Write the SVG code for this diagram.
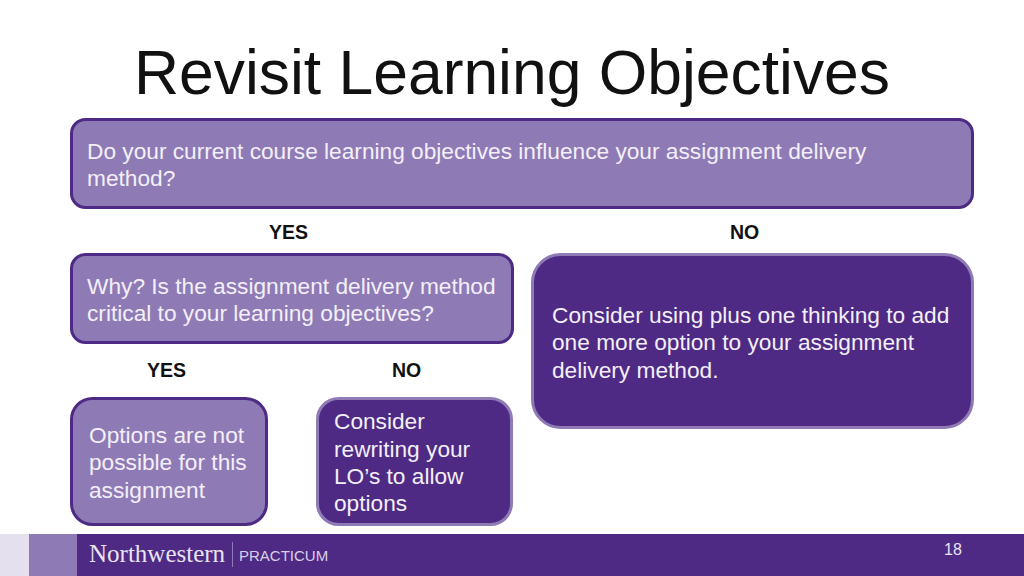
<svg xmlns="http://www.w3.org/2000/svg" width="1024" height="576" viewBox="0 0 1024 576">
<style>
text{font-family:"Liberation Sans",Arial,sans-serif}
.t{font-size:22.700px;fill:#f3eff8}
.l{font-size:19.500px;font-weight:700;fill:#111}
.light{fill:#8e7bb5;stroke:#4e2a84;stroke-width:3}
.dark{fill:#4e2a84;stroke:#8e7bb5;stroke-width:3}
</style>
<rect width="1024" height="576" fill="#fff"/>
<g id="footer">
<rect x="0" y="534" width="29" height="42" fill="#e4e0ee"/>
<rect x="29" y="534" width="48" height="42" fill="#8e7bb5"/>
<rect x="77" y="534" width="947" height="42" fill="#4e2a84"/>
<text x="89" y="562" font-size="25" style="font-family:'Liberation Serif',serif" fill="#e8e3f0">Northwestern</text>
<rect x="232" y="542" width="1" height="25" fill="#8e7bb5"/>
<text x="239" y="561" font-size="15" fill="#d8d0e6">PRACTICUM</text>
<text x="944" y="555" font-size="16" fill="#e8e3f0">18</text>
</g>
<text id="title" x="134" y="94" font-size="62.400" fill="#111">Revisit Learning Objectives</text>
<g id="node-question">
<rect class="light" x="71.500" y="119.500" width="901" height="88" rx="14"/>
<text class="t" x="87" y="159">Do your current course learning objectives influence your assignment delivery</text>
<text class="t" x="87" y="186">method?</text>
</g>
<text id="label-yes-1" class="l" x="269" y="239">YES</text>
<text id="label-no-1" class="l" x="730" y="239">NO</text>
<g id="node-why">
<rect class="light" x="71.500" y="254.500" width="441" height="88" rx="14"/>
<text class="t" x="87" y="294">Why? Is the assignment delivery method</text>
<text class="t" x="87" y="321">critical to your learning objectives?</text>
</g>
<g id="node-plus-one">
<rect class="dark" x="532.500" y="254.500" width="440" height="173" rx="28"/>
<text class="t" x="552" y="323">Consider using plus one thinking to add</text>
<text class="t" x="552" y="350">one more option to your assignment</text>
<text class="t" x="552" y="378">delivery method.</text>
</g>
<text id="label-yes-2" class="l" x="147" y="377">YES</text>
<text id="label-no-2" class="l" x="392" y="377">NO</text>
<g id="node-options">
<rect class="light" x="71.500" y="398.500" width="195" height="126" rx="21"/>
<text class="t" x="89" y="443">Options are not</text>
<text class="t" x="89" y="470">possible for this</text>
<text class="t" x="89" y="498">assignment</text>
</g>
<g id="node-rewrite">
<rect class="dark" x="317.500" y="398.500" width="194" height="126" rx="21"/>
<text class="t" x="334" y="429">Consider</text>
<text class="t" x="334" y="457">rewriting your</text>
<text class="t" x="334" y="484">LO’s to allow</text>
<text class="t" x="334" y="511">options</text>
</g>
<g id="connectors"/>
</svg>
